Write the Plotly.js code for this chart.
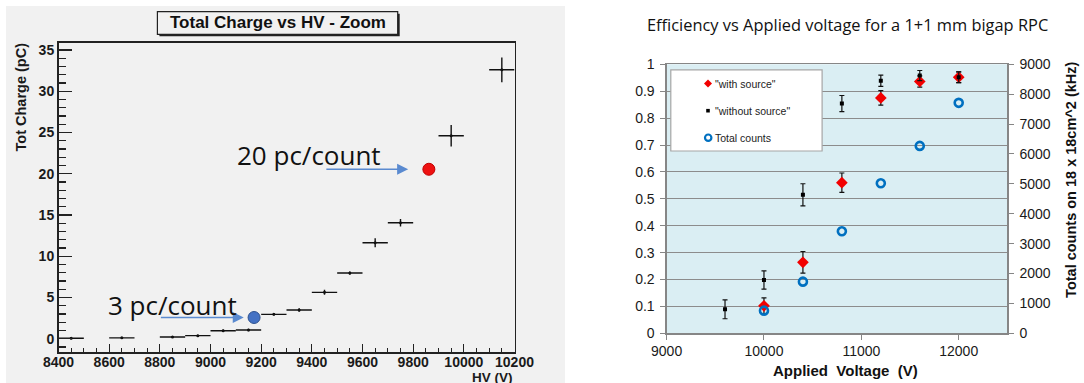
<!DOCTYPE html>
<html><head><meta charset="utf-8">
<script src="https://cdn.plot.ly/plotly-3.0.1.min.js"></script>
<style>html,body{margin:0;padding:0;background:#fff;}#chart{width:1084px;height:383px;}</style>
</head><body><div id="chart"></div>
<script>
// ---------- Left panel: Total Charge vs HV ----------
const hvBins = [8450, 8650, 8850, 8950, 9050, 9150, 9250, 9350, 9450, 9550, 9650, 9750, 9950, 10150];
const totCharge = [0.05, 0.1, 0.2, 0.37, 0.97, 1.05, 2.95, 3.48, 5.62, 7.96, 11.64, 14.06, 24.6, 32.6];
const totChargeErr = [0.12, 0.12, 0.12, 0.12, 0.15, 0.15, 0.15, 0.2, 0.3, 0.2, 0.55, 0.45, 1.3, 1.5];
const hvBinHalfWidth = 50;
const markedHV = [9172, 9862];
const markedCharge = [2.57, 20.54];
const markedLabels = ['3 pc/count', '20 pc/count'];
const leftXTicks = [8400, 8600, 8800, 9000, 9200, 9400, 9600, 9800, 10000, 10200];

// ---------- Right panel: Efficiency vs Applied voltage ----------
const voltNoSource = [9600, 10000, 10400, 10800, 11200, 11600, 12000];
const effNoSource = [0.089, 0.198, 0.515, 0.854, 0.939, 0.958, 0.952];
const errNoSource = [0.035, 0.034, 0.041, 0.03, 0.021, 0.019, 0.02];
const voltSource = [10000, 10400, 10800, 11200, 11600, 12000];
const effSource = [0.102, 0.264, 0.56, 0.875, 0.936, 0.952];
const errSource = [0.03, 0.04, 0.036, 0.027, 0.021, 0.02];
const totalCounts = [758, 1728, 3412, 5018, 6270, 7710];
const legendNames = ['"with source"', '"without source"', 'Total counts'];

const W = 1084, H = 383;
const px = x => x / W;
const py = y => 1 - y / H;

const RED = '#f20000', BLUE = '#0070c0';

const traces = [
  { type: 'scatter', mode: 'markers', x: hvBins, y: totCharge, xaxis: 'x', yaxis: 'y',
    marker: { size: 3, color: '#111' },
    error_x: { type: 'constant', value: hvBinHalfWidth, width: 0, thickness: 1.4, color: '#111' },
    error_y: { type: 'data', array: totChargeErr, width: 0, thickness: 1.4, color: '#111' },
    showlegend: false, hoverinfo: 'skip' },
  { type: 'scatter', mode: 'markers', x: markedHV, y: markedCharge, xaxis: 'x', yaxis: 'y',
    marker: { size: 12, color: ['#4472c4', '#ee1111'], line: { color: ['#2f528f', '#c00000'], width: 1 } },
    showlegend: false, hoverinfo: 'skip' },
  { type: 'scatter', mode: 'markers', name: legendNames[0], x: voltSource, y: effSource, xaxis: 'x2', yaxis: 'y2',
    marker: { symbol: 'diamond', size: 9, color: RED },
    error_y: { type: 'data', array: errSource, width: 2.5, thickness: 1.2, color: '#111' },
    showlegend: false, hoverinfo: 'skip' },
  { type: 'scatter', mode: 'markers', name: legendNames[1], x: voltNoSource, y: effNoSource, xaxis: 'x2', yaxis: 'y2',
    marker: { symbol: 'square', size: 4, color: '#000' },
    error_y: { type: 'data', array: errNoSource, width: 2.5, thickness: 1.2, color: '#111' },
    showlegend: false, hoverinfo: 'skip' },
  { type: 'scatter', mode: 'markers', name: legendNames[2], x: voltSource, y: totalCounts, xaxis: 'x2', yaxis: 'y3',
    marker: { symbol: 'circle-open', size: 8, color: BLUE, line: { color: BLUE, width: 2.6 } },
    showlegend: false, hoverinfo: 'skip' }
];

const boldTick = { family: 'Liberation Sans, Arial, sans-serif', size: 14, color: '#1a1a1a', weight: 'bold' };
const plainTick = { family: 'Liberation Sans, Arial, sans-serif', size: 14, color: '#1a1a1a' };

const layout = {
  width: W, height: H,
  margin: { l: 0, r: 0, t: 0, b: 0 },
  paper_bgcolor: '#ffffff', plot_bgcolor: 'rgba(0,0,0,0)',
  showlegend: false,
  xaxis: {
    domain: [px(58.5), px(514.5)], anchor: 'y', range: [8400, 10200],
    tickvals: leftXTicks, tickformat: 'd', ticks: 'inside', ticklen: 8, tickwidth: 1.2, tickcolor: '#222',
    minor: { dtick: 50, tick0: 8400, ticks: 'inside', ticklen: 4, tickwidth: 1.2, tickcolor: '#222' },
    showline: true, mirror: true, linecolor: '#222', linewidth: 1.5,
    showgrid: false, zeroline: false, tickfont: boldTick, ticklabelstandoff: -4
  },
  yaxis: {
    domain: [py(352.3), py(42.7)], anchor: 'x', range: [-1.649, 35.885],
    dtick: 5, tick0: 0, ticks: 'inside', ticklen: 13, tickwidth: 1.2, tickcolor: '#222',
    minor: { dtick: 1, ticks: 'inside', ticklen: 7, tickwidth: 1.2, tickcolor: '#222' },
    showline: true, mirror: true, linecolor: '#222', linewidth: 1.5,
    showgrid: false, zeroline: false, tickfont: boldTick
  },
  xaxis2: {
    domain: [px(666.6), px(1007.4)], anchor: 'y2', range: [9000, 12500],
    dtick: 1000, tick0: 9000, tickformat: 'd', ticks: 'outside', ticklen: 5, tickcolor: '#868686',
    showline: true, mirror: true, linecolor: '#868686', linewidth: 1.2,
    showgrid: false, zeroline: false, tickfont: plainTick
  },
  yaxis2: {
    domain: [py(333.3), py(64.3)], anchor: 'x2', range: [0, 1],
    dtick: 0.1, tick0: 0, ticks: 'outside', ticklen: 5, tickcolor: '#868686',
    showline: true, linecolor: '#868686', linewidth: 1.2,
    showgrid: true, gridcolor: '#8c8c8c', gridwidth: 1, zeroline: false,
    tickfont: plainTick, ticklabelstandoff: 3
  },
  yaxis3: {
    overlaying: 'y2', side: 'right', anchor: 'x2', range: [0, 9000],
    dtick: 1000, tick0: 0, tickformat: 'd', ticks: 'outside', ticklen: 5, tickcolor: '#868686',
    showline: true, linecolor: '#868686', linewidth: 1.2,
    showgrid: false, zeroline: false, tickfont: plainTick, ticklabelstandoff: 3
  },
  shapes: [
    // ROOT canvas background
    { type: 'rect', xref: 'paper', yref: 'paper', x0: px(6), x1: px(565), y0: 0, y1: py(6),
      fillcolor: '#f1f1f1', line: { width: 0 }, layer: 'below' },
    // title box shadow + box
    { type: 'rect', xref: 'paper', yref: 'paper', x0: px(159.4), x1: px(399.7), y0: py(36.3), y1: py(13.7),
      fillcolor: '#222', line: { width: 0 }, layer: 'below' },
    { type: 'rect', xref: 'paper', yref: 'paper', x0: px(157.4), x1: px(397.7), y0: py(34.3), y1: py(11.7),
      fillcolor: '#f1f1f1', line: { color: '#222', width: 1.2 }, layer: 'below' },
    // Excel plot area fill
    { type: 'rect', xref: 'x2 domain', yref: 'y2 domain', x0: 0, x1: 1, y0: 0, y1: 1,
      fillcolor: '#daeef3', line: { width: 0 }, layer: 'below' },
    // legend box
    { type: 'rect', xref: 'paper', yref: 'paper', x0: px(670.8), x1: px(822.1), y0: py(151), y1: py(69.8),
      fillcolor: '#ffffff', line: { color: '#a6a6a6', width: 1.2 }, layer: 'above' },
    // legend keys
    { type: 'path', xref: 'paper', yref: 'paper', layer: 'above',
      path: `M ${px(708)} ${py(79.6)} L ${px(712)} ${py(83.6)} L ${px(708)} ${py(87.6)} L ${px(704)} ${py(83.6)} Z`,
      fillcolor: RED, line: { width: 0 } },
    { type: 'rect', xref: 'paper', yref: 'paper', layer: 'above',
      x0: px(706.2), x1: px(709.8), y0: py(112.5), y1: py(108.9), fillcolor: '#000', line: { width: 0 } },
    { type: 'circle', xref: 'paper', yref: 'paper', layer: 'above',
      x0: px(705), x1: px(711.4), y0: py(140.9), y1: py(134.5), fillcolor: 'rgba(0,0,0,0)', line: { color: BLUE, width: 2.2 } }
  ],
  annotations: [
    { xref: 'paper', yref: 'paper', x: px(277.5), y: py(23), xanchor: 'center', yanchor: 'middle', showarrow: false,
      text: 'Total Charge vs HV - Zoom', font: { family: 'Liberation Sans, Arial, sans-serif', size: 17, color: '#111', weight: 'bold' } },
    { xref: 'paper', yref: 'paper', x: px(21.3), y: py(97.2), xanchor: 'center', yanchor: 'middle', showarrow: false, textangle: -90,
      text: 'Tot Charge (pC)', font: { family: 'Liberation Sans, Arial, sans-serif', size: 14.5, color: '#1a1a1a', weight: 'bold' } },
    { xref: 'paper', yref: 'paper', x: px(515), y: py(377.5), xanchor: 'right', yanchor: 'middle', showarrow: false,
      text: 'HV (V)', font: { family: 'Liberation Sans, Arial, sans-serif', size: 13.5, color: '#1a1a1a', weight: 'bold' } },
    // arrows towards the highlighted points
    { xref: 'x', yref: 'y', x: markedHV[0], y: markedCharge[0], xshift: -10.3, ax: -84.4, ay: 0, text: '',
      showarrow: true, arrowhead: 2, arrowsize: 1.3, arrowwidth: 1.7, arrowcolor: '#5a8ad0' },
    { xref: 'x', yref: 'y', x: markedHV[1], y: markedCharge[1], xshift: -20.7, ax: -83.3, ay: 0, text: '',
      showarrow: true, arrowhead: 2, arrowsize: 1.3, arrowwidth: 1.7, arrowcolor: '#5a8ad0' },
    { xref: 'paper', yref: 'paper', x: px(172.4), y: py(305.3), xanchor: 'center', yanchor: 'middle', showarrow: false,
      text: markedLabels[0], font: { family: 'Open Sans, sans-serif', size: 26, color: '#111' } },
    { xref: 'paper', yref: 'paper', x: px(308.9), y: py(155.3), xanchor: 'center', yanchor: 'middle', showarrow: false,
      text: markedLabels[1], font: { family: 'Open Sans, sans-serif', size: 26, color: '#111' } },
    // right chart texts
    { xref: 'paper', yref: 'paper', x: px(847.1), y: py(24.3), xanchor: 'center', yanchor: 'middle', showarrow: false,
      text: 'Efficiency vs Applied voltage for a 1+1 mm bigap RPC', font: { family: 'Open Sans, sans-serif', size: 16.4, color: '#111' } },
    { xref: 'paper', yref: 'paper', x: px(845.4), y: py(370), xanchor: 'center', yanchor: 'middle', showarrow: false,
      text: 'Applied&nbsp; Voltage&nbsp; (V)', font: { family: 'Liberation Sans, Arial, sans-serif', size: 15, color: '#111', weight: 'bold' } },
    { xref: 'paper', yref: 'paper', x: px(1070.9), y: py(180), xanchor: 'center', yanchor: 'middle', showarrow: false, textangle: -90,
      text: 'Total counts on 18 x 18cm^2 (kHz)', font: { family: 'Liberation Sans, Arial, sans-serif', size: 14.5, color: '#111', weight: 'bold' } },
    { xref: 'paper', yref: 'paper', x: px(712.8), y: py(83.6), xanchor: 'left', yanchor: 'middle', showarrow: false,
      text: legendNames[0], font: { family: 'Liberation Sans, Arial, sans-serif', size: 10.5, color: '#222' } },
    { xref: 'paper', yref: 'paper', x: px(712.8), y: py(110.7), xanchor: 'left', yanchor: 'middle', showarrow: false,
      text: legendNames[1], font: { family: 'Liberation Sans, Arial, sans-serif', size: 10.5, color: '#222' } },
    { xref: 'paper', yref: 'paper', x: px(712.8), y: py(137.7), xanchor: 'left', yanchor: 'middle', showarrow: false,
      text: legendNames[2], font: { family: 'Liberation Sans, Arial, sans-serif', size: 10.5, color: '#222' } }
  ]
};

Plotly.newPlot('chart', traces, layout, { displayModeBar: false, staticPlot: true });
</script>
</body></html>
